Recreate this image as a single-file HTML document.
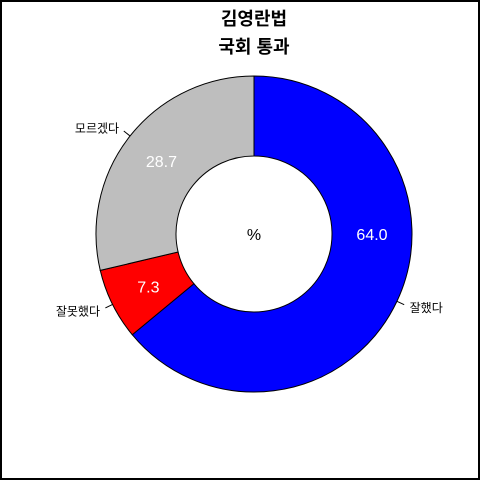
<!DOCTYPE html>
<html><head><meta charset="utf-8"><style>
body{margin:0;background:#fff}
svg{display:block;font-family:"Liberation Sans","Noto Sans CJK KR",sans-serif}
</style></head><body>
<svg id="c" width="480" height="480" viewBox="0 0 480 480">
<rect x="1" y="1" width="478" height="478" fill="#fff" stroke="#000" stroke-width="2"/>
<text x="254" y="25" text-anchor="middle" font-size="18" font-weight="bold">김영란법</text>
<text x="254" y="53" text-anchor="middle" font-size="18" font-weight="bold">국회 통과</text>
<g id="g"></g>
<text x="254" y="240" text-anchor="middle" font-size="16">%</text>
</svg>
<script>
const categories=["잘했다","잘못했다","모르겠다"];
const values=[64.0,7.3,28.7];
const colors=["#0000ff","#ff0000","#bebebe"];
const cx=254,cy=234,R=158,r=78;
const g=document.getElementById('g');
const NS='http://www.w3.org/2000/svg';
const total=values.reduce((a,b)=>a+b,0);
function pt(a,rad){return [cx+rad*Math.sin(a),cy-rad*Math.cos(a)];}
let acc=0;
values.forEach((v,i)=>{
  const a0=acc/total*2*Math.PI;acc+=v;const a1=acc/total*2*Math.PI;
  const large=(a1-a0)>Math.PI?1:0;
  const p0=pt(a0,R),p1=pt(a1,R),q1=pt(a1,r),q0=pt(a0,r);
  const p=document.createElementNS(NS,'path');
  p.setAttribute('d',`M${p0[0]},${p0[1]}A${R},${R} 0 ${large} 1 ${p1[0]},${p1[1]}L${q1[0]},${q1[1]}A${r},${r} 0 ${large} 0 ${q0[0]},${q0[1]}Z`);
  p.setAttribute('fill',colors[i]);p.setAttribute('stroke','#000');p.setAttribute('stroke-width','1');
  
  
  g.appendChild(p);
  const m=(a0+a1)/2;
  const t0=pt(m,R),t1=pt(m,R+8);
  const l=document.createElementNS(NS,'line');
  l.setAttribute('x1',t0[0]);l.setAttribute('y1',t0[1]);l.setAttribute('x2',t1[0]);l.setAttribute('y2',t1[1]);
  l.setAttribute('stroke','#000');
  
  
  g.appendChild(l);
  const lp=pt(m,R+14);
  const t=document.createElementNS(NS,'text');
  const right=Math.sin(m)>=0;
  t.setAttribute('x',lp[0]);t.setAttribute('y',lp[1]+5);
  t.setAttribute('text-anchor',right?'start':'end');t.setAttribute('font-size','12');
  t.textContent=categories[i];
  
  
  g.appendChild(t);
  const va=(m>Math.PI/2&&m<Math.PI)?Math.PI/2:m;
  const vp=pt(va,(R+r)/2);
  const vt=document.createElementNS(NS,'text');
  vt.setAttribute('x',vp[0]);vt.setAttribute('y',vp[1]+6);
  vt.setAttribute('text-anchor','middle');vt.setAttribute('font-size','16');vt.setAttribute('fill','#fff');
  vt.textContent=v.toFixed(1);
  
  
  g.appendChild(vt);
});
</script>
</body></html>
